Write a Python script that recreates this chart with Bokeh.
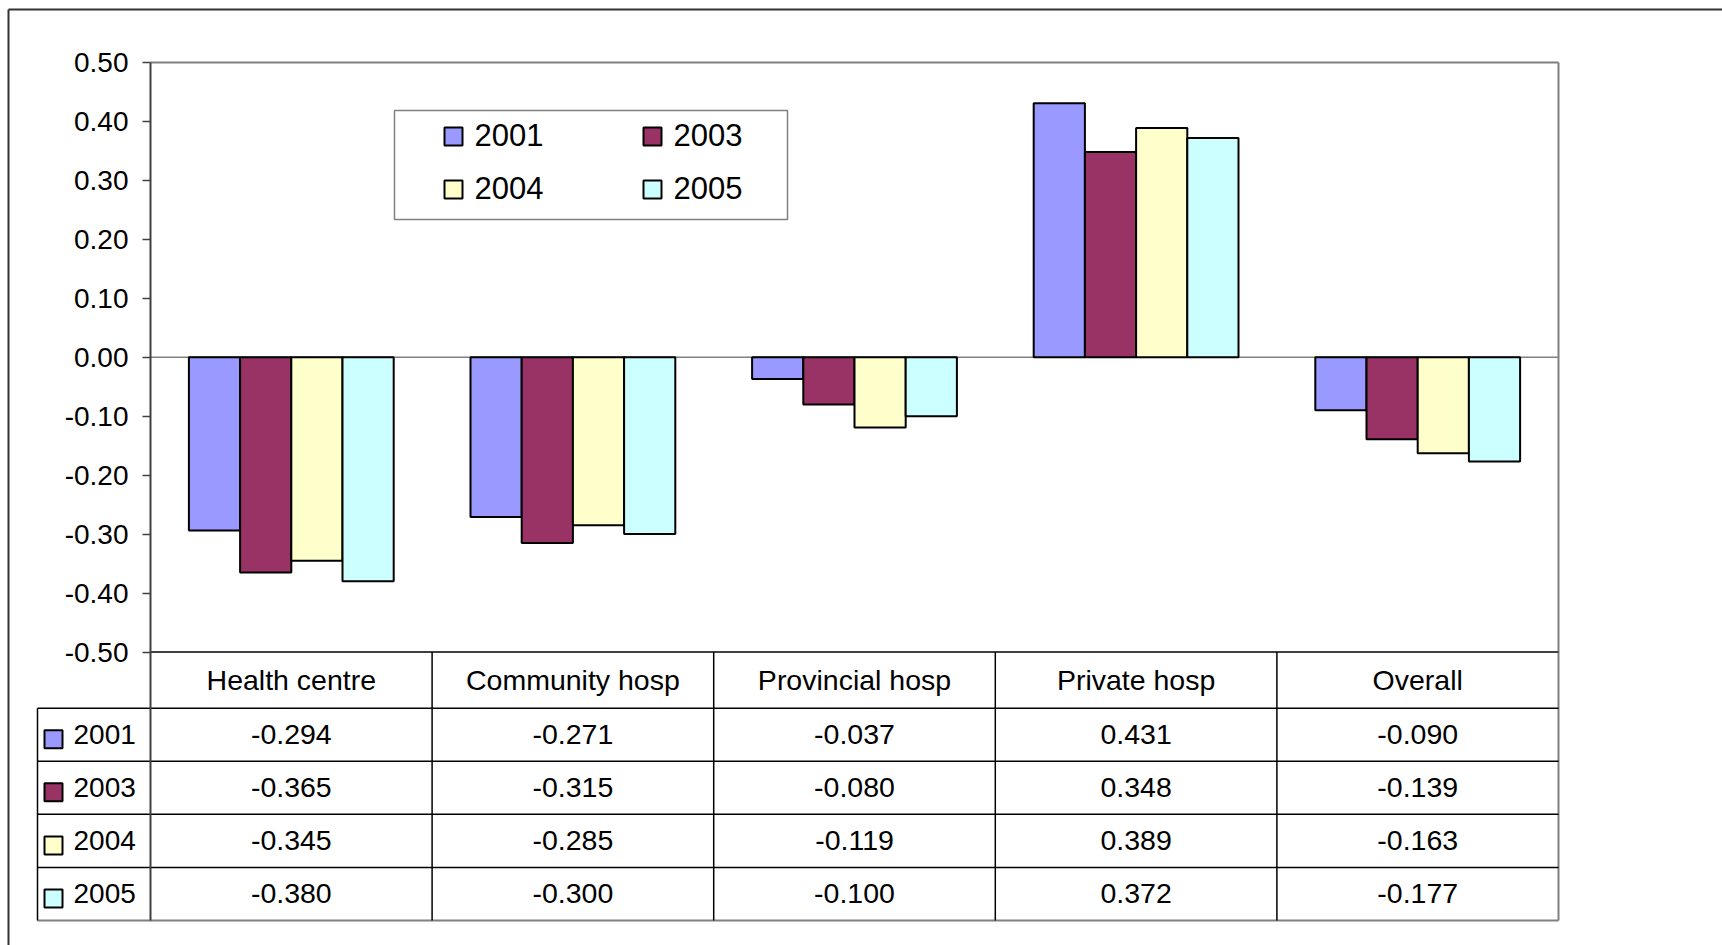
from bokeh.plotting import figure
from bokeh.models import (Range1d, FixedTicker, PrintfTickFormatter,
                          BoxAnnotation, Label, ColumnDataSource)
from bokeh.transform import dodge
from bokeh.core.properties import value
from bokeh.embed import file_html
from bokeh.resources import INLINE

# ---------------- data ----------------
CATEGORIES = ["Health centre", "Community hosp", "Provincial hosp", "Private hosp", "Overall"]
YEARS = ["2001", "2003", "2004", "2005"]
V2001 = [-0.294, -0.271, -0.037, 0.431, -0.090]
V2003 = [-0.365, -0.315, -0.080, 0.348, -0.139]
V2004 = [-0.345, -0.285, -0.119, 0.389, -0.163]
V2005 = [-0.380, -0.300, -0.100, 0.372, -0.177]
SERIES = [V2001, V2003, V2004, V2005]
COLORS = ["#9999FF", "#993366", "#FFFFCC", "#CCFFFF"]
Y_TICKS = [-0.5, -0.4, -0.3, -0.2, -0.1, 0.0, 0.1, 0.2, 0.3, 0.4, 0.5]

# ---------------- layout constants (canvas px) ----------------
FONT = "Liberation Sans"
W, H = 1722, 945
PLOT_L, PLOT_R, PLOT_T, PLOT_B = 150, 1558, 62, 651.5
TABLE_L, TABLE_B = 37, 920
HEADER_B = 707.7
BORDER_X, BORDER_Y = 8, 9
N = len(CATEGORIES)
NROWS = len(YEARS)
COL_PX = (PLOT_R - PLOT_L) / N
ROW_PX = (TABLE_B - HEADER_B) / NROWS
Y_LO, Y_HI = Y_TICKS[0], Y_TICKS[-1]
PX_PER_UNIT = (PLOT_B - PLOT_T) / (Y_HI - Y_LO)


def xd(x):
    """canvas x -> data x (category slots are 1 unit wide)"""
    return (x - PLOT_L) / COL_PX


def yd(y):
    """canvas y -> data y"""
    return Y_HI - (y - PLOT_T) / PX_PER_UNIT


def sx(x):
    return x


def sy(y):
    return H - y


p = figure(width=W, height=H, output_backend="svg", toolbar_location=None,
           x_range=Range1d(xd(0), xd(W)), y_range=Range1d(yd(H), yd(0)),
           x_axis_location=None, y_axis_location="left",
           min_border_left=0, min_border_right=0, min_border_top=0, min_border_bottom=0)
p.background_fill_color = "white"
p.border_fill_color = "white"
p.outline_line_color = None
p.xgrid.visible = False
p.ygrid.visible = False

ax = p.yaxis[0]
ax.fixed_location = 0
ax.bounds = (yd(TABLE_B), Y_HI)
ax.ticker = FixedTicker(ticks=Y_TICKS)
ax.formatter = PrintfTickFormatter(format="%.2f")
ax.major_tick_out = 8
ax.major_tick_in = 0
ax.minor_tick_out = 0
ax.minor_tick_in = 0
ax.major_label_standoff = 14
ax.major_label_text_font = FONT
ax.major_label_text_font_size = "28px"
ax.major_label_text_color = "black"
ax.axis_line_color = "#404040"
ax.axis_line_width = 2
ax.major_tick_line_color = "#404040"
ax.major_tick_line_width = 1.5

# chart area frame (top + right, grey) and zero line
p.segment(x0=[0], x1=[N], y0=[Y_HI], y1=[Y_HI], line_color="#808080", line_width=2)
p.segment(x0=[N], x1=[N], y0=[yd(TABLE_B)], y1=[Y_HI], line_color="#808080", line_width=2)
p.segment(x0=[0], x1=[N], y0=[0], y1=[0], line_color="#808080", line_width=1.5)

# bars
src = ColumnDataSource(dict(cat=CATEGORIES, xc=[i + 0.5 for i in range(N)],
                            **{y: s for y, s in zip(YEARS, SERIES)}))
bar_w = 1.0 / (NROWS + 1.5)
for j, (yr, col) in enumerate(zip(YEARS, COLORS)):
    off = (j - (NROWS - 1) / 2) * bar_w
    p.vbar(x=dodge("xc", off), top=yr, bottom=0, width=bar_w,
           source=src, fill_color=col, line_color="black", line_width=2)

# ---------------- legend (boxed, 2 columns) ----------------
LEG_L, LEG_R, LEG_T, LEG_B = 394, 787, 110, 219
p.add_layout(BoxAnnotation(left=sx(LEG_L), right=sx(LEG_R), top=sy(LEG_T), bottom=sy(LEG_B),
                           left_units="screen", right_units="screen",
                           top_units="screen", bottom_units="screen",
                           fill_color="white", fill_alpha=1.0,
                           line_color="#808080", line_alpha=1.0, line_width=1.5))
SW_X = [444, 643]
ROW_C = [136, 189]
SW = 18
for j, (yr, col) in enumerate(zip(YEARS, COLORS)):
    r, c = divmod(j, 2)
    x0 = SW_X[c]
    yc = ROW_C[r]
    p.add_layout(BoxAnnotation(left=sx(x0), right=sx(x0 + SW), top=sy(yc - SW / 2), bottom=sy(yc + SW / 2),
                               left_units="screen", right_units="screen",
                               top_units="screen", bottom_units="screen",
                               fill_color=col, fill_alpha=1.0, line_color="black",
                               line_alpha=1.0, line_width=2))
    p.add_layout(Label(x=sx(x0 + SW + 12), y=sy(yc - 2), x_units="screen", y_units="screen",
                       text=yr, text_font=FONT, text_font_size="31px", text_color="black",
                       text_baseline="middle"))

# ---------------- data table (below the chart) ----------------
row_lines = [HEADER_B + k * ROW_PX for k in range(NROWS)]
# header top (= chart bottom)
p.segment(x0=[0], x1=[N], y0=[Y_LO], y1=[Y_LO], line_color="#404040", line_width=2)
# horizontal row lines incl. legend column
p.segment(x0=[xd(TABLE_L)] * NROWS, x1=[N] * NROWS,
          y0=[yd(y) for y in row_lines], y1=[yd(y) for y in row_lines],
          line_color="black", line_width=1.5)
# bottom line
p.segment(x0=[xd(TABLE_L)], x1=[N], y0=[yd(TABLE_B)], y1=[yd(TABLE_B)],
          line_color="#808080", line_width=2)
# vertical separators between categories
p.segment(x0=list(range(1, N)), x1=list(range(1, N)),
          y0=[yd(TABLE_B)] * (N - 1), y1=[Y_LO] * (N - 1),
          line_color="black", line_width=1.5)
# left edge of legend column
p.segment(x0=[xd(TABLE_L)], x1=[xd(TABLE_L)], y0=[yd(TABLE_B)], y1=[yd(HEADER_B)],
          line_color="black", line_width=1.5)

# header texts
p.text(x=[i + 0.5 for i in range(N)], y=[yd((PLOT_B + HEADER_B) / 2)] * N, text=CATEGORIES,
       text_font=value(FONT), text_font_size=value("28.5px"), text_color="black",
       text_align="center", text_baseline="middle")

for k, (yr, s, col) in enumerate(zip(YEARS, SERIES, COLORS)):
    rc = HEADER_B + (k + 0.5) * ROW_PX
    p.text(x=[i + 0.5 for i in range(N)], y=[yd(rc)] * N, text=["%.3f" % v for v in s],
           text_font=value(FONT), text_font_size=value("28.5px"), text_color="black",
           text_align="center", text_baseline="middle")
    p.rect(x=[xd(44 + SW / 2)], y=[yd(rc + 4.5)], width=SW, height=SW,
           width_units="screen", height_units="screen",
           fill_color=col, line_color="black", line_width=2)
    p.text(x=[xd(73)], y=[yd(rc)], text=[yr],
           text_font=value(FONT), text_font_size=value("28px"), text_color="black",
           text_align="left", text_baseline="middle")

# outer frame (top + left lines, running off the page)
p.segment(x0=[xd(BORDER_X)], x1=[xd(W + 10)], y0=[yd(BORDER_Y)], y1=[yd(BORDER_Y)],
          line_color="#333333", line_width=2)
p.segment(x0=[xd(BORDER_X)], x1=[xd(BORDER_X)], y0=[yd(BORDER_Y)], y1=[yd(H + 10)],
          line_color="#333333", line_width=2)

open("out.html", "w").write(file_html(p, INLINE))
